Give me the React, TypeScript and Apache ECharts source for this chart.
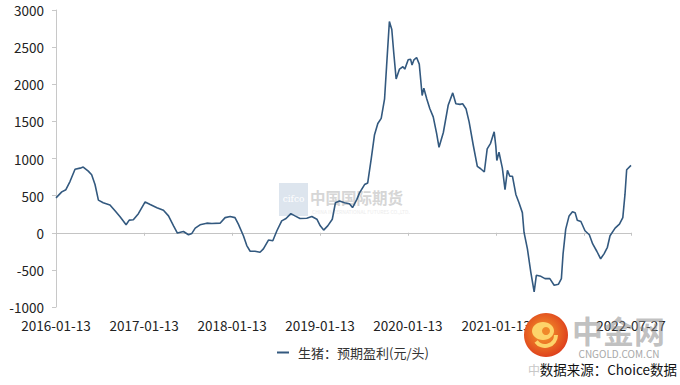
import React, { useEffect, useRef } from "react";
import * as echarts from "echarts";

const seriesName = "生猪：预期盈利(元/头)";

const dates: string[] = [
  "2016-01-13", "2016-02-06", "2016-02-23", "2016-03-11", "2016-04-01", "2016-04-22", "2016-05-05",
  "2016-05-26", "2016-06-09", "2016-06-23", "2016-07-07", "2016-07-27", "2016-08-24", "2016-09-14",
  "2016-10-05", "2016-10-30", "2016-11-12", "2016-11-29", "2016-12-20",
  "2017-01-17", "2017-02-07", "2017-03-07", "2017-04-03", "2017-04-24", "2017-05-15", "2017-05-31",
  "2017-06-25", "2017-07-16", "2017-07-30", "2017-08-13", "2017-09-02", "2017-09-30", "2017-10-21",
  "2017-11-24", "2017-12-15", "2018-01-05",
  "2018-01-25", "2018-02-08", "2018-03-01", "2018-03-15", "2018-03-29", "2018-04-18", "2018-05-09",
  "2018-05-23", "2018-06-13", "2018-07-01", "2018-07-18", "2018-08-07", "2018-08-25", "2018-09-14",
  "2018-10-01", "2018-10-22", "2018-11-19", "2018-12-10", "2018-12-31",
  "2019-01-14", "2019-01-28", "2019-02-14", "2019-03-05", "2019-03-18", "2019-04-04", "2019-04-25",
  "2019-05-15", "2019-05-28", "2019-06-15", "2019-06-26", "2019-07-17", "2019-07-30", "2019-08-14",
  "2019-08-27", "2019-09-10", "2019-09-24", "2019-10-08", "2019-10-19", "2019-10-28", "2019-11-07",
  "2019-11-15", "2019-11-25", "2019-12-09", "2019-12-23", "2019-12-31",
  "2020-01-14", "2020-01-24", "2020-01-30", "2020-02-07", "2020-02-18", "2020-02-29", "2020-03-12",
  "2020-03-19", "2020-03-31", "2020-04-13", "2020-04-27", "2020-05-11", "2020-05-21", "2020-06-08",
  "2020-06-28", "2020-07-17", "2020-07-30", "2020-08-16", "2020-08-27", "2020-09-10", "2020-09-23",
  "2020-10-10", "2020-10-27", "2020-11-10", "2020-11-25", "2020-12-07", "2020-12-21", "2021-01-05",
  "2021-01-12", "2021-01-16", "2021-01-25", "2021-02-08", "2021-02-19", "2021-03-01", "2021-03-11",
  "2021-03-22", "2021-04-05", "2021-04-18", "2021-05-02", "2021-05-09", "2021-05-23", "2021-06-06",
  "2021-06-20", "2021-06-29", "2021-07-18", "2021-08-04", "2021-08-24", "2021-09-11", "2021-09-29",
  "2021-10-11", "2021-10-18", "2021-10-29", "2021-11-12", "2021-11-26", "2021-12-07", "2021-12-16",
  "2021-12-31",
  "2022-01-17", "2022-02-04", "2022-02-18", "2022-03-07", "2022-03-23", "2022-04-06", "2022-04-20",
  "2022-05-01", "2022-05-22", "2022-06-09", "2022-06-23", "2022-07-02", "2022-07-09", "2022-07-27",
];

const values: number[] = [
  470, 550, 580, 690, 855, 870, 885,
  830, 780, 650, 440, 405, 375, 295,
  215, 107, 170, 175, 257,
  415, 380, 337, 302, 227, 93, -4,
  17, -27, -9, 62, 107, 129, 124,
  129, 204, 218,
  204, 116, -40, -173, -249, -249, -262,
  -218, -98, -107, 27, 160, 191, 258,
  227, 191, 196, 218, 182,
  93, 36, 93, 182, 404, 427, 404,
  391, 340, 449, 537, 649, 671, 1004,
  1316, 1471, 1540, 1804, 2382, 2845, 2738,
  2427, 2071, 2204, 2236, 2204,
  2329, 2338, 2258, 2329, 2360, 2271, 1849,
  1947, 1804, 1671, 1560, 1338, 1151, 1350,
  1716, 1884, 1737, 1729, 1737, 1671, 1493,
  1182, 893, 862, 818, 1129, 1204, 1360,
  1160, 973, 1084, 871, 582, 840, 760,
  760, 516, 404, 271, 4, -218, -529,
  -796, -573, -587, -618, -618, -707, -693,
  -618, -284, 49, 227, 284, 271, 169,
  151,
  27, -27, -151, -249, -351, -284, -196,
  -40, 62, 116, 204, 516, 849, 907,
];

const xLabelDates: string[] = [
  "2016-01-13", "2017-01-13", "2018-01-13", "2019-01-13", "2020-01-13", "2021-01-13", "2022-07-27",
];
const xTickDates: string[] = [
  "2016-01-13", "2017-01-13", "2018-01-13", "2019-01-13", "2020-01-13", "2021-01-13", "2022-01-13", "2022-07-27",
];

const FONT = '"Noto Sans CJK SC", "Noto Sans", sans-serif';
const LINE_COLOR = "#33597f";

const fmtDate = (v: number) => new Date(v).toISOString().slice(0, 10);

export default function App() {
  const ref = useRef<HTMLDivElement>(null);
  useEffect(() => {
    document.body.style.margin = "0";
    document.body.style.background = "#fff";
    if (!ref.current) return;
    const chart = echarts.init(ref.current, undefined, { renderer: "svg" });
    const data = dates.map((d, i) => [Date.parse(d), values[i]]);
    const xMin = Date.parse(dates[0]);
    const xMax = Date.parse(dates[dates.length - 1]);
    chart.setOption({
      animation: false,
      backgroundColor: "#ffffff",
      grid: { left: 56, right: 49, top: 10, bottom: 78 },
      legend: {
        left: 272,
        top: 341,
        icon: "rect",
        itemWidth: 12,
        itemHeight: 2,
        textStyle: { fontSize: 13, color: "#333", fontFamily: FONT, padding: [0, 0, 0, 4] },
        data: [seriesName],
      },
      xAxis: [
        {
          type: "value",
          min: xMin,
          max: xMax,
          position: "bottom",
          axisLine: { show: false, onZero: false },
          axisTick: { show: false },
          splitLine: { show: false },
          axisLabel: {
            customValues: xLabelDates.map((d) => Date.parse(d)),
            formatter: (v: number) => fmtDate(v),
            fontSize: 13.5,
            lineHeight: 14,
            color: "#222",
            fontFamily: FONT,
            margin: 11,
            showMinLabel: true,
            showMaxLabel: true,
          },
        },
        {
          type: "value",
          min: xMin,
          max: xMax,
          position: "bottom",
          axisLine: { show: true, onZero: true, lineStyle: { color: "#c4c4c4", width: 1 } },
          axisTick: {
            show: true,
            customValues: xTickDates.map((d) => Date.parse(d)),
            length: 3,
            lineStyle: { color: "#c4c4c4" },
          },
          axisLabel: { show: false },
          splitLine: { show: false },
        },
      ],
      yAxis: {
        type: "value",
        min: -1000,
        max: 3000,
        interval: 500,
        axisLine: { show: true, lineStyle: { color: "#c8c8c8" } },
        axisTick: { show: true, length: 4, lineStyle: { color: "#c8c8c8" } },
        splitLine: { show: false },
        axisLabel: {
          fontSize: 13.5,
          lineHeight: 14,
          color: "#222",
          fontFamily: FONT,
          margin: 12,
          formatter: (v: number) => String(v),
        },
      },
      graphic: [
        { type: "rect", shape: { x: 279, y: 183, width: 29, height: 33 }, style: { fill: "#dde5ee" }, z: 0 },
        {
          type: "text", x: 293.5, y: 199,
          style: { text: "cifco", fill: "#ffffff", fontSize: 9, fontFamily: "DejaVu Serif", align: "center", verticalAlign: "middle" },
          z: 0,
        },
        {
          type: "text", x: 310, y: 197,
          style: { text: "中国国际期货", fill: "#d6d6d6", fontSize: 15.5, fontWeight: "bold", fontFamily: FONT, verticalAlign: "middle" },
          z: 0,
        },
        {
          type: "text", x: 312, y: 211,
          style: { text: "CHINA INTERNATIONAL FUTURES CO.,LTD.", fill: "#ececec", fontSize: 5, fontFamily: FONT, verticalAlign: "middle" },
          z: 0,
        },
        {
          type: "text", x: 572, y: 329,
          style: { text: "中金网", fill: "rgba(140,140,140,0.55)", fontSize: 31, lineHeight: 32, fontWeight: "bold", fontFamily: FONT, verticalAlign: "middle" },
          z: 100,
        },
        {
          type: "text", x: 619, y: 353,
          style: { text: "CNGOLD.COM.CN", fill: "#a8a8a8", fontSize: 10, lineHeight: 10, fontFamily: FONT, align: "center", verticalAlign: "middle" },
          z: 100,
        },
        {
          type: "circle", shape: { cx: 546, cy: 335, r: 22 },
          style: {
            fill: new echarts.graphic.RadialGradient(0.45, 0.45, 0.6, [
              { offset: 0, color: "#f6a02c" },
              { offset: 1, color: "#dd3a1c" },
            ]),
          },
          z: 101,
        },
        { type: "ellipse", shape: { cx: 543, cy: 331, rx: 11, ry: 9 }, style: { fill: "#fdd46a" }, z: 102 },
        { type: "circle", shape: { cx: 546, cy: 331, r: 4 }, style: { fill: "#f0892a" }, z: 103 },
        {
          type: "arc", shape: { cx: 545, cy: 335, r: 11, startAngle: 0, endAngle: Math.PI * 0.8 },
          style: { stroke: "#fdd46a", lineWidth: 4, fill: "none" },
          z: 102,
        },
        {
          type: "text", x: 528, y: 369,
          style: { text: "中", fill: "#c8c8c8", fontSize: 12, lineHeight: 12, fontFamily: FONT, verticalAlign: "middle" },
          z: 100,
        },
        {
          type: "text", x: 677, y: 369,
          style: { text: "数据来源：Choice数据", fill: "#111", fontSize: 13.5, lineHeight: 14, fontFamily: FONT, align: "right", verticalAlign: "middle" },
          z: 100,
        },
      ],
      series: [
        {
          name: seriesName,
          type: "line",
          xAxisIndex: 0,
          data,
          symbol: "none",
          smooth: false,
          lineStyle: { color: LINE_COLOR, width: 1.6 },
          itemStyle: { color: LINE_COLOR },
          z: 5,
        },
      ],
    });
    return () => chart.dispose();
  }, []);
  return <div ref={ref} style={{ width: 680, height: 385 }} />;
}
